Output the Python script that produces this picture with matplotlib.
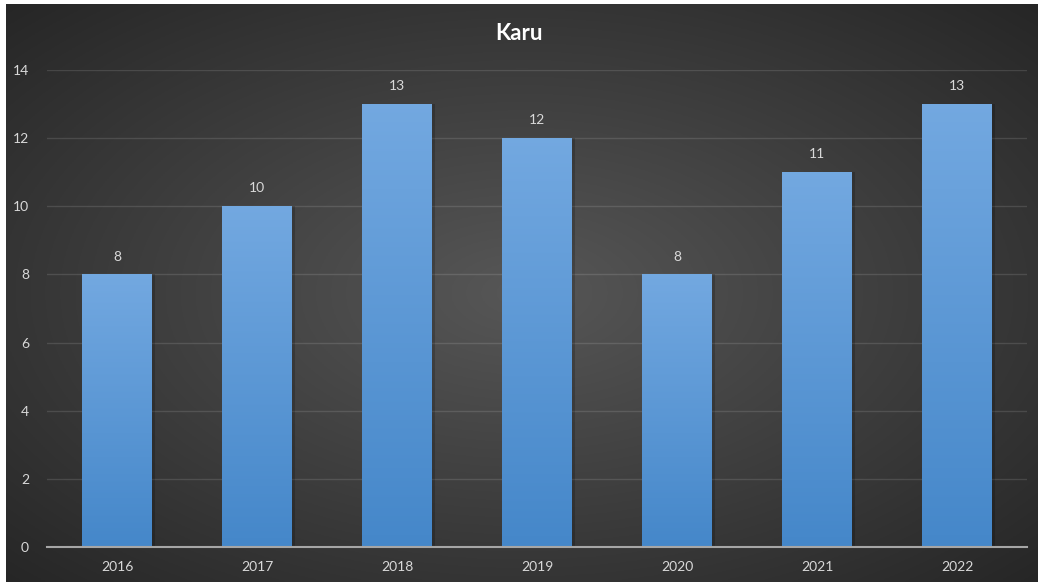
import matplotlib
matplotlib.use("Agg")
from matplotlib import pyplot as plt
import numpy as np

years = ["2016", "2017", "2018", "2019", "2020", "2021", "2022"]
counts = [8, 10, 13, 12, 8, 11, 13]
title = "Karu"

plt.rcParams['font.family'] = ['Lato', 'DejaVu Sans']

fig = plt.figure(figsize=(10.38, 5.82), dpi=100)
fig.patch.set_facecolor("white")

# radial gradient background (chart area, leaves thin white strip top/left)
bg = fig.add_axes([6 / 1038, 0, 1 - 6 / 1038, 1 - 4 / 582])
bg.set_axis_off()
yy, xx = np.mgrid[-1:1:300j, -1:1:500j]
r = np.sqrt(xx ** 2 + yy ** 2) / np.sqrt(2)
shade = 0.34 - 0.19 * r
bg.imshow(np.dstack([shade, shade, shade]), aspect="auto", extent=[0, 1, 0, 1])
bg.set_xlim(0, 1)
bg.set_ylim(0, 1)

ax = fig.add_axes([47 / 1038, 1 - 547 / 582, 980 / 1038, 477 / 582])
ax.patch.set_alpha(0)
x = np.arange(len(years))
width = 0.5
bars = ax.bar(x, counts, width=width, color="none", zorder=3)

# vertical gradient on each bar
grad = np.linspace(0, 1, 256).reshape(-1, 1)
top = np.array([0.45, 0.66, 0.88])
bottom = np.array([0.27, 0.53, 0.79])
img = bottom + (top - bottom) * grad[..., None]
for b in bars:
    x0, h = b.get_x(), b.get_height()
    ax.imshow(img, origin="lower", aspect="auto", zorder=3,
              extent=[x0, x0 + width, 0, h])
    # soft shadow on right side
    ax.add_patch(plt.Rectangle((x0 + width, 0), 0.02, h, color="black",
                               alpha=0.18, zorder=2, lw=0))
    ax.text(x0 + width / 2, h + 0.35, str(int(h)), ha="center", va="bottom",
            color="#d9d9d9", fontsize=10, zorder=4)

ax.set_xlim(-0.5, len(years) - 0.5)
ax.set_ylim(0, 14)
ax.set_yticks(range(0, 15, 2))
ax.set_xticks(x)
ax.set_xticklabels(years)
ax.grid(axis="y", color="#ffffff", alpha=0.12, linewidth=1.0, zorder=1)
ax.set_axisbelow(True)
for s in ["top", "right", "left"]:
    ax.spines[s].set_visible(False)
ax.spines["bottom"].set_color("#a6a6a6")
ax.spines["bottom"].set_linewidth(1.5)
ax.spines["bottom"].set_zorder(5)
ax.tick_params(axis="both", length=0, colors="#d9d9d9", labelsize=10)
ax.tick_params(axis="y", pad=13)
ax.tick_params(axis="x", pad=10)

fig.text(0.5, 1 - 33 / 582, title, ha="center", va="center", color="white",
         fontsize=16, fontweight="bold")

fig.savefig("out.png", dpi=100, facecolor=fig.get_facecolor())
